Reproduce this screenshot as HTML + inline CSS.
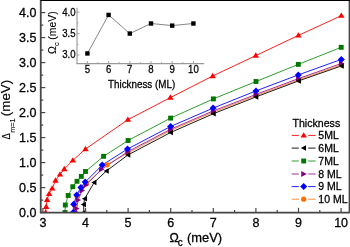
<!DOCTYPE html>
<html><head><meta charset="utf-8"><title>chart</title>
<style>html,body{margin:0;padding:0;background:#fff;width:350px;height:247px;overflow:hidden}svg{display:block;will-change:transform}text{stroke:#000;stroke-width:0.28px;paint-order:stroke}</style>
</head><body>
<svg width="350" height="247" viewBox="0 0 350 247" font-family='"Liberation Sans", sans-serif'>
<rect width="350" height="247" fill="#fff"/>
<defs><clipPath id="pc"><rect x="40.6" y="0" width="308.4" height="212.6"/></clipPath></defs>
<g clip-path="url(#pc)">
<polyline points="74.0,212.6 74.3,205.0 77.0,196.0 81.3,188.6 86.4,183.6 107.1,164.8 127.8,152.9 170.5,130.5 213.3,112.1 256.0,95.6 298.5,79.8 341.3,64.8" fill="none" stroke="#ff9040" stroke-width="1"/>
<polyline points="76.4,212.6 76.6,208.6 78.1,200.1 82.1,190.6 86.1,184.9 101.5,169.3 127.8,151.7 170.5,129.3 213.3,110.9 256.0,94.4 298.5,78.6 341.3,63.5" fill="none" stroke="#a030a0" stroke-width="1"/>
<polyline points="83.8,212.6 83.6,204.5 84.7,198.7 94.1,182.5 106.4,171.0 128.0,154.9 170.6,132.5 213.4,113.7 256.0,96.9 298.6,80.9 341.5,65.9" fill="none" stroke="#1a1a1a" stroke-width="1"/>
<polyline points="73.1,212.6 73.7,204.2 76.7,195.0 80.9,187.5 85.2,182.1 102.2,165.1 127.5,149.0 170.6,126.5 213.1,108.1 256.0,90.9 298.3,74.9 341.3,59.4" fill="none" stroke="#2020ff" stroke-width="1"/>
<polyline points="65.0,212.6 65.3,205.0 68.2,195.5 72.8,186.7 77.0,181.3 81.3,176.4 85.5,171.5 103.6,156.3 128.1,140.5 170.6,118.1 213.4,98.9 256.0,81.5 298.3,64.4 341.2,47.3" fill="none" stroke="#2e9e2e" stroke-width="1"/>
<polyline points="45.6,212.6 46.2,206.8 47.1,199.8 49.1,193.9 52.2,188.4 55.5,180.5 60.0,174.4 64.3,169.0 72.8,160.4 85.5,149.0 127.9,119.7 170.4,97.6 212.7,76.0 255.8,55.6 298.4,35.4 341.3,15.7" fill="none" stroke="#ff2020" stroke-width="1"/>
<circle cx="74.00" cy="212.60" r="2.6" fill="#ff7000"/>
<circle cx="74.30" cy="205.00" r="2.6" fill="#ff7000"/>
<circle cx="77.00" cy="196.00" r="2.6" fill="#ff7000"/>
<circle cx="81.30" cy="188.60" r="2.6" fill="#ff7000"/>
<circle cx="86.40" cy="183.60" r="2.6" fill="#ff7000"/>
<circle cx="107.10" cy="164.80" r="2.6" fill="#ff7000"/>
<circle cx="127.80" cy="152.90" r="2.6" fill="#ff7000"/>
<circle cx="170.50" cy="130.50" r="2.6" fill="#ff7000"/>
<circle cx="213.30" cy="112.10" r="2.6" fill="#ff7000"/>
<circle cx="256.00" cy="95.60" r="2.6" fill="#ff7000"/>
<circle cx="298.50" cy="79.80" r="2.6" fill="#ff7000"/>
<circle cx="341.30" cy="64.80" r="2.6" fill="#ff7000"/>
<polygon points="79.37,212.60 73.97,209.70 73.97,215.50" fill="#800080"/>
<polygon points="79.57,208.60 74.17,205.70 74.17,211.50" fill="#800080"/>
<polygon points="81.07,200.10 75.67,197.20 75.67,203.00" fill="#800080"/>
<polygon points="85.07,190.60 79.67,187.70 79.67,193.50" fill="#800080"/>
<polygon points="89.07,184.90 83.67,182.00 83.67,187.80" fill="#800080"/>
<polygon points="104.47,169.30 99.07,166.40 99.07,172.20" fill="#800080"/>
<polygon points="130.77,151.70 125.37,148.80 125.37,154.60" fill="#800080"/>
<polygon points="173.47,129.30 168.07,126.40 168.07,132.20" fill="#800080"/>
<polygon points="216.27,110.90 210.87,108.00 210.87,113.80" fill="#800080"/>
<polygon points="258.97,94.40 253.57,91.50 253.57,97.30" fill="#800080"/>
<polygon points="301.47,78.60 296.07,75.70 296.07,81.50" fill="#800080"/>
<polygon points="344.27,63.50 338.87,60.60 338.87,66.40" fill="#800080"/>
<polygon points="80.94,212.60 86.14,209.85 86.14,215.35" fill="#000000"/>
<polygon points="80.74,204.50 85.94,201.75 85.94,207.25" fill="#000000"/>
<polygon points="81.84,198.70 87.04,195.95 87.04,201.45" fill="#000000"/>
<polygon points="91.24,182.50 96.44,179.75 96.44,185.25" fill="#000000"/>
<polygon points="103.54,171.00 108.74,168.25 108.74,173.75" fill="#000000"/>
<polygon points="125.14,154.90 130.34,152.15 130.34,157.65" fill="#000000"/>
<polygon points="167.74,132.50 172.94,129.75 172.94,135.25" fill="#000000"/>
<polygon points="210.54,113.70 215.74,110.95 215.74,116.45" fill="#000000"/>
<polygon points="253.14,96.90 258.34,94.15 258.34,99.65" fill="#000000"/>
<polygon points="295.74,80.90 300.94,78.15 300.94,83.65" fill="#000000"/>
<polygon points="338.64,65.90 343.84,63.15 343.84,68.65" fill="#000000"/>
<polygon points="73.10,209.10 76.60,212.60 73.10,216.10 69.60,212.60" fill="#0000ff"/>
<polygon points="73.70,200.70 77.20,204.20 73.70,207.70 70.20,204.20" fill="#0000ff"/>
<polygon points="76.70,191.50 80.20,195.00 76.70,198.50 73.20,195.00" fill="#0000ff"/>
<polygon points="80.90,184.00 84.40,187.50 80.90,191.00 77.40,187.50" fill="#0000ff"/>
<polygon points="85.20,178.60 88.70,182.10 85.20,185.60 81.70,182.10" fill="#0000ff"/>
<polygon points="102.20,161.60 105.70,165.10 102.20,168.60 98.70,165.10" fill="#0000ff"/>
<polygon points="127.50,145.50 131.00,149.00 127.50,152.50 124.00,149.00" fill="#0000ff"/>
<polygon points="170.60,123.00 174.10,126.50 170.60,130.00 167.10,126.50" fill="#0000ff"/>
<polygon points="213.10,104.60 216.60,108.10 213.10,111.60 209.60,108.10" fill="#0000ff"/>
<polygon points="256.00,87.40 259.50,90.90 256.00,94.40 252.50,90.90" fill="#0000ff"/>
<polygon points="298.30,71.40 301.80,74.90 298.30,78.40 294.80,74.90" fill="#0000ff"/>
<polygon points="341.30,55.90 344.80,59.40 341.30,62.90 337.80,59.40" fill="#0000ff"/>
<rect x="62.55" y="210.15" width="4.9" height="4.9" fill="#007800"/>
<rect x="62.85" y="202.55" width="4.9" height="4.9" fill="#007800"/>
<rect x="65.75" y="193.05" width="4.9" height="4.9" fill="#007800"/>
<rect x="70.35" y="184.25" width="4.9" height="4.9" fill="#007800"/>
<rect x="74.55" y="178.85" width="4.9" height="4.9" fill="#007800"/>
<rect x="78.85" y="173.95" width="4.9" height="4.9" fill="#007800"/>
<rect x="83.05" y="169.05" width="4.9" height="4.9" fill="#007800"/>
<rect x="101.15" y="153.85" width="4.9" height="4.9" fill="#007800"/>
<rect x="125.65" y="138.05" width="4.9" height="4.9" fill="#007800"/>
<rect x="168.15" y="115.65" width="4.9" height="4.9" fill="#007800"/>
<rect x="210.95" y="96.45" width="4.9" height="4.9" fill="#007800"/>
<rect x="253.55" y="79.05" width="4.9" height="4.9" fill="#007800"/>
<rect x="295.85" y="61.95" width="4.9" height="4.9" fill="#007800"/>
<rect x="338.75" y="44.85" width="4.9" height="4.9" fill="#007800"/>
<polygon points="45.60,209.36 48.80,214.76 42.40,214.76" fill="#ff0000"/>
<polygon points="46.20,203.56 49.40,208.96 43.00,208.96" fill="#ff0000"/>
<polygon points="47.10,196.56 50.30,201.96 43.90,201.96" fill="#ff0000"/>
<polygon points="49.10,190.66 52.30,196.06 45.90,196.06" fill="#ff0000"/>
<polygon points="52.20,185.16 55.40,190.56 49.00,190.56" fill="#ff0000"/>
<polygon points="55.50,177.26 58.70,182.66 52.30,182.66" fill="#ff0000"/>
<polygon points="60.00,171.16 63.20,176.56 56.80,176.56" fill="#ff0000"/>
<polygon points="64.30,165.76 67.50,171.16 61.10,171.16" fill="#ff0000"/>
<polygon points="72.80,157.16 76.00,162.56 69.60,162.56" fill="#ff0000"/>
<polygon points="85.50,145.76 88.70,151.16 82.30,151.16" fill="#ff0000"/>
<polygon points="127.90,116.46 131.10,121.86 124.70,121.86" fill="#ff0000"/>
<polygon points="170.40,94.36 173.60,99.76 167.20,99.76" fill="#ff0000"/>
<polygon points="212.70,72.76 215.90,78.16 209.50,78.16" fill="#ff0000"/>
<polygon points="255.80,52.36 259.00,57.76 252.60,57.76" fill="#ff0000"/>
<polygon points="298.40,32.16 301.60,37.56 295.20,37.56" fill="#ff0000"/>
<polygon points="341.30,12.46 344.50,17.86 338.10,17.86" fill="#ff0000"/>
</g>
<line x1="40.75" y1="0" x2="40.75" y2="212.6" stroke="#464646" stroke-width="1.8"/>
<line x1="39.85" y1="212.6" x2="349.75" y2="212.6" stroke="#464646" stroke-width="1.7"/>
<line x1="349.3" y1="0" x2="349.3" y2="212.6" stroke="#3a3a3a" stroke-width="1.3"/>
<line x1="40.6" y1="0.45" x2="350" y2="0.45" stroke="#000" stroke-width="1.3"/>
<line x1="40.6" y1="212.60" x2="45.300000000000004" y2="212.60" stroke="#464646" stroke-width="1.2"/>
<line x1="40.6" y1="200.10" x2="43.300000000000004" y2="200.10" stroke="#464646" stroke-width="1.2"/>
<line x1="40.6" y1="187.60" x2="45.300000000000004" y2="187.60" stroke="#464646" stroke-width="1.2"/>
<line x1="40.6" y1="175.10" x2="43.300000000000004" y2="175.10" stroke="#464646" stroke-width="1.2"/>
<line x1="40.6" y1="162.60" x2="45.300000000000004" y2="162.60" stroke="#464646" stroke-width="1.2"/>
<line x1="40.6" y1="150.10" x2="43.300000000000004" y2="150.10" stroke="#464646" stroke-width="1.2"/>
<line x1="40.6" y1="137.60" x2="45.300000000000004" y2="137.60" stroke="#464646" stroke-width="1.2"/>
<line x1="40.6" y1="125.10" x2="43.300000000000004" y2="125.10" stroke="#464646" stroke-width="1.2"/>
<line x1="40.6" y1="112.60" x2="45.300000000000004" y2="112.60" stroke="#464646" stroke-width="1.2"/>
<line x1="40.6" y1="100.10" x2="43.300000000000004" y2="100.10" stroke="#464646" stroke-width="1.2"/>
<line x1="40.6" y1="87.60" x2="45.300000000000004" y2="87.60" stroke="#464646" stroke-width="1.2"/>
<line x1="40.6" y1="75.10" x2="43.300000000000004" y2="75.10" stroke="#464646" stroke-width="1.2"/>
<line x1="40.6" y1="62.60" x2="45.300000000000004" y2="62.60" stroke="#464646" stroke-width="1.2"/>
<line x1="40.6" y1="50.10" x2="43.300000000000004" y2="50.10" stroke="#464646" stroke-width="1.2"/>
<line x1="40.6" y1="37.60" x2="45.300000000000004" y2="37.60" stroke="#464646" stroke-width="1.2"/>
<line x1="40.6" y1="25.10" x2="43.300000000000004" y2="25.10" stroke="#464646" stroke-width="1.2"/>
<line x1="40.6" y1="12.60" x2="45.300000000000004" y2="12.60" stroke="#464646" stroke-width="1.2"/>
<line x1="42.90" y1="212.6" x2="42.90" y2="207.9" stroke="#464646" stroke-width="1.2"/>
<line x1="64.20" y1="212.6" x2="64.20" y2="209.9" stroke="#464646" stroke-width="1.2"/>
<line x1="85.50" y1="212.6" x2="85.50" y2="207.9" stroke="#464646" stroke-width="1.2"/>
<line x1="106.80" y1="212.6" x2="106.80" y2="209.9" stroke="#464646" stroke-width="1.2"/>
<line x1="128.10" y1="212.6" x2="128.10" y2="207.9" stroke="#464646" stroke-width="1.2"/>
<line x1="149.40" y1="212.6" x2="149.40" y2="209.9" stroke="#464646" stroke-width="1.2"/>
<line x1="170.70" y1="212.6" x2="170.70" y2="207.9" stroke="#464646" stroke-width="1.2"/>
<line x1="192.00" y1="212.6" x2="192.00" y2="209.9" stroke="#464646" stroke-width="1.2"/>
<line x1="213.30" y1="212.6" x2="213.30" y2="207.9" stroke="#464646" stroke-width="1.2"/>
<line x1="234.60" y1="212.6" x2="234.60" y2="209.9" stroke="#464646" stroke-width="1.2"/>
<line x1="255.90" y1="212.6" x2="255.90" y2="207.9" stroke="#464646" stroke-width="1.2"/>
<line x1="277.20" y1="212.6" x2="277.20" y2="209.9" stroke="#464646" stroke-width="1.2"/>
<line x1="298.50" y1="212.6" x2="298.50" y2="207.9" stroke="#464646" stroke-width="1.2"/>
<line x1="319.80" y1="212.6" x2="319.80" y2="209.9" stroke="#464646" stroke-width="1.2"/>
<line x1="341.10" y1="212.6" x2="341.10" y2="207.9" stroke="#464646" stroke-width="1.2"/>
<text x="36.4" y="217.10" font-size="12.5" text-anchor="end" fill="#000">0.0</text>
<text x="36.4" y="192.10" font-size="12.5" text-anchor="end" fill="#000">0.5</text>
<text x="36.4" y="167.10" font-size="12.5" text-anchor="end" fill="#000">1.0</text>
<text x="36.4" y="142.10" font-size="12.5" text-anchor="end" fill="#000">1.5</text>
<text x="36.4" y="117.10" font-size="12.5" text-anchor="end" fill="#000">2.0</text>
<text x="36.4" y="92.10" font-size="12.5" text-anchor="end" fill="#000">2.5</text>
<text x="36.4" y="67.10" font-size="12.5" text-anchor="end" fill="#000">3.0</text>
<text x="36.4" y="42.10" font-size="12.5" text-anchor="end" fill="#000">3.5</text>
<text x="36.4" y="17.10" font-size="12.5" text-anchor="end" fill="#000">4.0</text>
<text x="42.90" y="227" font-size="12.5" text-anchor="middle" fill="#000">3</text>
<text x="85.50" y="227" font-size="12.5" text-anchor="middle" fill="#000">4</text>
<text x="128.10" y="227" font-size="12.5" text-anchor="middle" fill="#000">5</text>
<text x="170.70" y="227" font-size="12.5" text-anchor="middle" fill="#000">6</text>
<text x="213.30" y="227" font-size="12.5" text-anchor="middle" fill="#000">7</text>
<text x="255.90" y="227" font-size="12.5" text-anchor="middle" fill="#000">8</text>
<text x="298.50" y="227" font-size="12.5" text-anchor="middle" fill="#000">9</text>
<text x="341.10" y="227" font-size="12.5" text-anchor="middle" fill="#000">10</text>
<text x="169.5" y="241.7" font-size="12.5" fill="#000">Ω</text>
<text x="177.8" y="246.0" font-size="10" fill="#000">c</text>
<text x="187.0" y="241.7" font-size="12.9" fill="#000">(meV)</text>
<text transform="translate(10.2,139.6) rotate(-90) scale(0.88,1)" font-size="10.6" fill="#000" style="stroke-width:0.1px">Δ</text>
<text transform="translate(14.5,132.8) rotate(-90)" font-size="7.2" fill="#000" style="stroke-width:0.1px">m=1</text>
<text transform="translate(9.9,116.2) rotate(-90)" font-size="13.4" fill="#000" style="stroke-width:0.15px">(meV)</text>
<line x1="77.0" y1="7.8" x2="77.0" y2="63.6" stroke="#9a9a9a" stroke-width="1.15"/>
<line x1="76.4" y1="63.6" x2="204.2" y2="63.6" stroke="#9a9a9a" stroke-width="1.15"/>
<line x1="77.0" y1="55.00" x2="79.5" y2="55.00" stroke="#9a9a9a" stroke-width="0.9"/>
<line x1="77.0" y1="44.30" x2="78.5" y2="44.30" stroke="#9a9a9a" stroke-width="0.9"/>
<line x1="77.0" y1="33.60" x2="79.5" y2="33.60" stroke="#9a9a9a" stroke-width="0.9"/>
<line x1="77.0" y1="22.90" x2="78.5" y2="22.90" stroke="#9a9a9a" stroke-width="0.9"/>
<line x1="77.0" y1="12.20" x2="79.5" y2="12.20" stroke="#9a9a9a" stroke-width="0.9"/>
<line x1="87.40" y1="63.6" x2="87.40" y2="61.1" stroke="#9a9a9a" stroke-width="0.9"/>
<line x1="98.00" y1="63.6" x2="98.00" y2="62.1" stroke="#9a9a9a" stroke-width="0.9"/>
<line x1="108.60" y1="63.6" x2="108.60" y2="61.1" stroke="#9a9a9a" stroke-width="0.9"/>
<line x1="119.20" y1="63.6" x2="119.20" y2="62.1" stroke="#9a9a9a" stroke-width="0.9"/>
<line x1="129.80" y1="63.6" x2="129.80" y2="61.1" stroke="#9a9a9a" stroke-width="0.9"/>
<line x1="140.40" y1="63.6" x2="140.40" y2="62.1" stroke="#9a9a9a" stroke-width="0.9"/>
<line x1="151.00" y1="63.6" x2="151.00" y2="61.1" stroke="#9a9a9a" stroke-width="0.9"/>
<line x1="161.60" y1="63.6" x2="161.60" y2="62.1" stroke="#9a9a9a" stroke-width="0.9"/>
<line x1="172.20" y1="63.6" x2="172.20" y2="61.1" stroke="#9a9a9a" stroke-width="0.9"/>
<line x1="182.80" y1="63.6" x2="182.80" y2="62.1" stroke="#9a9a9a" stroke-width="0.9"/>
<line x1="193.40" y1="63.6" x2="193.40" y2="61.1" stroke="#9a9a9a" stroke-width="0.9"/>
<text transform="translate(75.6,58.40) scale(0.88,1)" font-size="10.9" text-anchor="end" fill="#000">3.0</text>
<text transform="translate(75.6,37.00) scale(0.88,1)" font-size="10.9" text-anchor="end" fill="#000">3.5</text>
<text transform="translate(75.6,15.60) scale(0.88,1)" font-size="10.9" text-anchor="end" fill="#000">4.0</text>
<text transform="translate(87.40,73.1) scale(0.9,1)" font-size="10.7" text-anchor="middle" fill="#000">5</text>
<text transform="translate(108.60,73.1) scale(0.9,1)" font-size="10.7" text-anchor="middle" fill="#000">6</text>
<text transform="translate(129.80,73.1) scale(0.9,1)" font-size="10.7" text-anchor="middle" fill="#000">7</text>
<text transform="translate(151.00,73.1) scale(0.9,1)" font-size="10.7" text-anchor="middle" fill="#000">8</text>
<text transform="translate(172.20,73.1) scale(0.9,1)" font-size="10.7" text-anchor="middle" fill="#000">9</text>
<text transform="translate(193.40,73.1) scale(0.9,1)" font-size="10.7" text-anchor="middle" fill="#000">10</text>
<text transform="translate(141.6,88.4) scale(0.905,1)" font-size="10.9" text-anchor="middle" fill="#000">Thickness (ML)</text>
<text transform="translate(55.5,53.9) rotate(-90)" font-size="10.4" fill="#000" style="stroke-width:0.1px"><tspan>Ω</tspan><tspan font-size="7.2" dy="3.6">c</tspan><tspan dy="-3.6"> (meV)</tspan></text>
<polyline points="87.4,53.5 108.6,14.9 129.8,33.6 151.0,23.5 172.2,25.6 193.4,23.5" fill="none" stroke="#707070" stroke-width="0.85"/>
<rect x="85.20" y="51.26" width="4.4" height="4.4" fill="#000"/>
<rect x="106.40" y="12.74" width="4.4" height="4.4" fill="#000"/>
<rect x="127.60" y="31.36" width="4.4" height="4.4" fill="#000"/>
<rect x="148.80" y="21.30" width="4.4" height="4.4" fill="#000"/>
<rect x="170.00" y="23.44" width="4.4" height="4.4" fill="#000"/>
<rect x="191.20" y="21.30" width="4.4" height="4.4" fill="#000"/>
<text x="292.5" y="126.7" font-size="10.6" fill="#000">Thickness</text>
<line x1="291.7" y1="135.4" x2="298.8" y2="135.4" stroke="#ff2020" stroke-width="1"/>
<line x1="308.2" y1="135.4" x2="315.6" y2="135.4" stroke="#ff2020" stroke-width="1"/>
<polygon points="303.70,132.16 306.90,137.56 300.50,137.56" fill="#ff0000"/>
<text x="318.3" y="139.00" font-size="10.5" fill="#000">5ML</text>
<line x1="291.7" y1="148.1" x2="298.8" y2="148.1" stroke="#1a1a1a" stroke-width="1"/>
<line x1="308.2" y1="148.1" x2="315.6" y2="148.1" stroke="#1a1a1a" stroke-width="1"/>
<polygon points="300.84,148.10 306.04,145.35 306.04,150.85" fill="#000000"/>
<text x="318.3" y="151.70" font-size="10.5" fill="#000">6ML</text>
<line x1="291.7" y1="161.0" x2="298.8" y2="161.0" stroke="#2e9e2e" stroke-width="1"/>
<line x1="308.2" y1="161.0" x2="315.6" y2="161.0" stroke="#2e9e2e" stroke-width="1"/>
<rect x="301.25" y="158.55" width="4.9" height="4.9" fill="#007800"/>
<text x="318.3" y="164.60" font-size="10.5" fill="#000">7ML</text>
<line x1="291.7" y1="174.0" x2="298.8" y2="174.0" stroke="#a030a0" stroke-width="1"/>
<line x1="308.2" y1="174.0" x2="315.6" y2="174.0" stroke="#a030a0" stroke-width="1"/>
<polygon points="306.67,174.00 301.27,171.10 301.27,176.90" fill="#800080"/>
<text x="318.3" y="177.60" font-size="10.5" fill="#000">8 ML</text>
<line x1="291.7" y1="186.6" x2="298.8" y2="186.6" stroke="#2020ff" stroke-width="1"/>
<line x1="308.2" y1="186.6" x2="315.6" y2="186.6" stroke="#2020ff" stroke-width="1"/>
<polygon points="303.70,183.10 307.20,186.60 303.70,190.10 300.20,186.60" fill="#0000ff"/>
<text x="318.3" y="190.20" font-size="10.5" fill="#000">9 ML</text>
<line x1="291.7" y1="199.2" x2="298.8" y2="199.2" stroke="#ff9040" stroke-width="1"/>
<line x1="308.2" y1="199.2" x2="315.6" y2="199.2" stroke="#ff9040" stroke-width="1"/>
<circle cx="303.70" cy="199.20" r="2.6" fill="#ff7000"/>
<text x="318.3" y="202.80" font-size="10.5" fill="#000">10 ML</text>
</svg>
</body></html>
